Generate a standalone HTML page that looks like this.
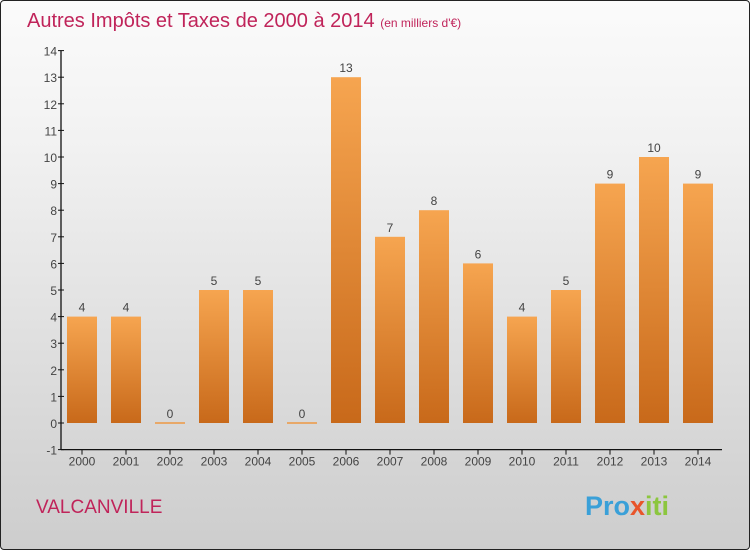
<!DOCTYPE html>
<html><head><meta charset="utf-8"><style>
body{margin:0;width:750px;height:550px;overflow:hidden;font-family:"Liberation Sans",sans-serif;}
#wrap{position:absolute;left:0;top:0;width:748px;height:548px;border:1px solid #222;border-radius:4px;background:linear-gradient(#fbfbfb,#f2f2f2 25%,#d9d9d9 75%,#cdcdcd);}
</style></head><body>
<div id="wrap">
<svg id="chart" width="750" height="550" style="position:absolute;left:-1px;top:-1px">
<defs><linearGradient id="bg" x1="0" y1="0" x2="0" y2="1"><stop offset="0" stop-color="#f6a550"/><stop offset="1" stop-color="#c8691a"/></linearGradient></defs>
<text x="27" y="27" font-size="20" fill="#c0245a">Autres Impôts et Taxes de 2000 à 2014 <tspan font-size="12">(en milliers d'€)</tspan></text>
<text x="36" y="513" font-size="19" fill="#c0245a">VALCANVILLE</text>
<text x="585" y="515" font-size="27" font-weight="bold" fill="#3aa0d8">Pro<tspan fill="#e8552b">x</tspan><tspan fill="#8cc63f">iti</tspan></text>
<g id="axes"></g><g id="bars"></g>
</svg></div>
<script>
const years=["2000","2001","2002","2003","2004","2005","2006","2007","2008","2009","2010","2011","2012","2013","2014"];
const values=[4,4,0,5,5,0,13,7,8,6,4,5,9,10,9];
const yTicks=[-1,0,1,2,3,4,5,6,7,8,9,10,11,12,13,14];
const NS="http://www.w3.org/2000/svg";
const x0=82,step=44,bw=30;
function xs(i){return x0+i*step;}
function ys(v){return 423-v*26.6;}
function mk(t,a,p){const e=document.createElementNS(NS,t);for(const k in a)e.setAttribute(k,a[k]);p.appendChild(e);return e;}
const ax=document.getElementById('axes'),bg=document.getElementById('bars');
const yl=mk('line',{x1:61,y1:ys(14),x2:61,y2:ys(-1),stroke:'#111','stroke-width':1.3},ax);


const xl=mk('line',{x1:61,y1:ys(-1),x2:722,y2:ys(-1),stroke:'#111','stroke-width':1.3},ax);


yTicks.forEach(v=>{
 mk('line',{x1:58,y1:ys(v),x2:64,y2:ys(v),stroke:'#111'},ax);
 const t=mk('text',{x:57,y:ys(v)+5,'font-size':12,fill:'#444','text-anchor':'end'},ax);
 t.textContent=v;
 
 
});
years.forEach((y,i)=>{
 mk('line',{x1:xs(i),y1:ys(-1),x2:xs(i),y2:ys(-1)+5,stroke:'#111'},ax);
 const t=mk('text',{x:xs(i),y:ys(-1)+16,'font-size':12,fill:'#444','text-anchor':'middle'},ax);
 t.textContent=y;
 
 
 const v=values[i];
 const top=ys(Math.max(v,0)),h=Math.max(ys(0)-top,2);
 const r=mk('rect',{x:xs(i)-bw/2,y:v>0?top:ys(0)-1,width:bw,height:v>0?h:2,fill:v>0?'url(#bg)':'#e8a868'},bg);
 
 
 const l=mk('text',{x:xs(i),y:(v>0?top:ys(0))-5,'font-size':12,fill:'#444','text-anchor':'middle'},bg);
 l.textContent=v;
 
 
});
</script>
</body></html>
